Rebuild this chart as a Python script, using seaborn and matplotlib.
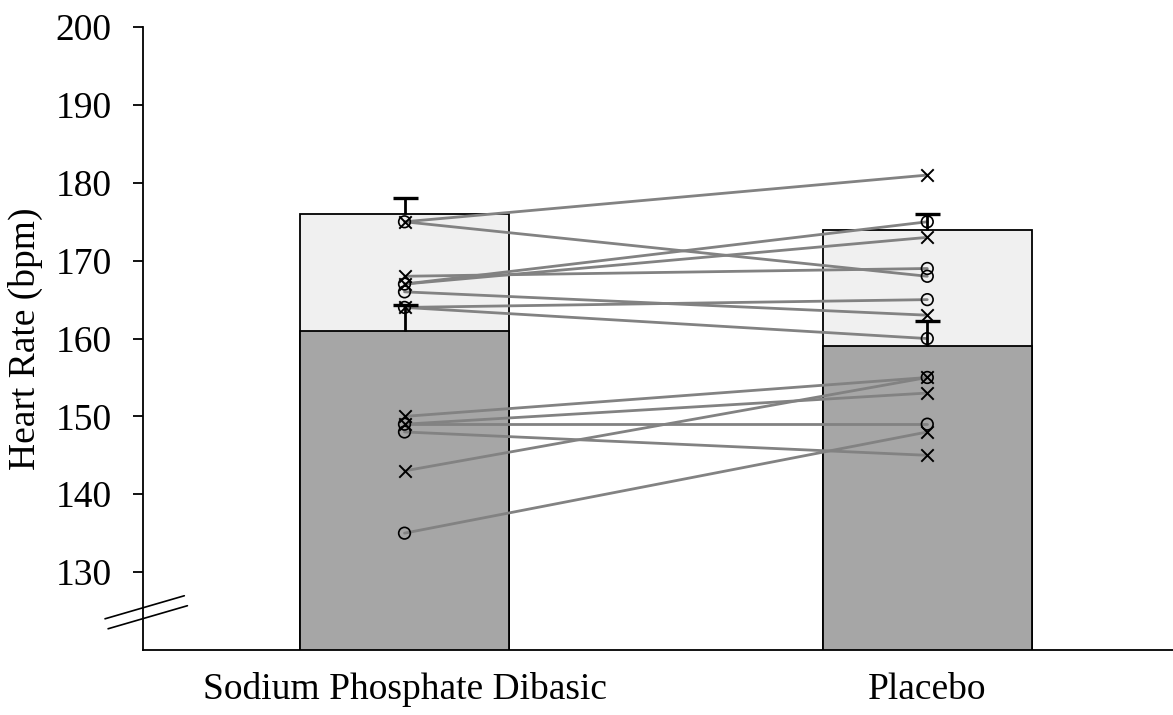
import pandas as pd
import matplotlib
matplotlib.use("Agg")
import matplotlib.pyplot as plt
import seaborn as sns

# data
conditions = ["Sodium Phosphate Dibasic", "Placebo"]
light_means = [176, 174]
light_err = [2.0, 2.0]
dark_means = [161, 159]
dark_err = [3.3, 3.2]

# individual subjects (sodium -> placebo)
sodium = [175, 175, 167, 167, 168, 166, 164, 164, 150, 149, 149, 148, 143, 135]
placebo = [181, 168, 175, 173, 169, 163, 165, 160, 155, 153, 149, 145, 155, 148]
sodium_marker = ["x", "o", "o", "x", "x", "o", "x", "o", "x", "x", "o", "o", "x", "o"]
placebo_marker = ["x", "o", "o", "x", "o", "x", "o", "o", "o", "x", "o", "x", "x", "x"]

sns.set_style("white")
plt.rcParams["font.family"] = ["Liberation Serif", "DejaVu Serif"]
plt.rcParams.update({"text.color": "black", "axes.labelcolor": "black",
                     "xtick.color": "black", "ytick.color": "black"})

fig = plt.figure(figsize=(11.73, 7.15), dpi=100)
ax = fig.add_axes([0.122, 0.091, 0.878, 0.871])

# bars (light drawn first, dark on top)
sns.barplot(x=conditions, y=light_means, color="#f0f0f0", edgecolor="black",
            linewidth=1.3, width=0.4, saturation=1, ax=ax)
sns.barplot(x=conditions, y=dark_means, color="#a6a6a6", edgecolor="black",
            linewidth=1.3, width=0.4, saturation=1, ax=ax)

# subject lines
rows = []
for i in range(len(sodium)):
    rows.append({"subject": i, "pos": 0, "hr": sodium[i], "marker": sodium_marker[i]})
    rows.append({"subject": i, "pos": 1, "hr": placebo[i], "marker": placebo_marker[i]})
df = pd.DataFrame(rows)

sns.lineplot(data=df, x="pos", y="hr", units="subject", estimator=None,
             color="#828282", linewidth=2, ax=ax, zorder=3)

xs = df[df["marker"] == "x"]
os_ = df[df["marker"] == "o"]
sns.scatterplot(data=xs, x="pos", y="hr", marker="x", color="black", s=80,
                linewidth=1.4, ax=ax, zorder=4)
sns.scatterplot(data=os_, x="pos", y="hr", marker="o", facecolors="none",
                edgecolor="black", s=70, linewidth=1.2, ax=ax, zorder=4)

# upward-only error bars
for i in range(2):
    for m, e in [(light_means[i], light_err[i]), (dark_means[i], dark_err[i])]:
        eb = ax.errorbar(i, m, yerr=[[0], [e]], color="black", capsize=9,
                         capthick=2.4, elinewidth=2, zorder=5)
        eb[1][0].set_visible(False)

ax.set_xlim(-0.5, 1.47)
ax.set_ylim(120, 200)
ax.set_yticks(range(130, 201, 10))
ax.set_xlabel("")
ax.set_ylabel("Heart Rate (bpm)", fontsize=27, labelpad=9)
ax.tick_params(axis="y", direction="out", length=7.5, width=1.3, labelsize=27,
               pad=15, left=True)
ax.tick_params(axis="x", length=0, labelsize=27, pad=16)

sns.despine(ax=ax)
for side in ["left", "bottom"]:
    ax.spines[side].set_color("black")
    ax.spines[side].set_linewidth(1.3)

# axis break marks
ax.plot([-0.037, 0.040], [0.050, 0.087], color="black", lw=1.2,
        transform=ax.transAxes, clip_on=False)
ax.plot([-0.034, 0.043], [0.034, 0.071], color="black", lw=1.2,
        transform=ax.transAxes, clip_on=False)

fig.savefig("out.png", dpi=100)
